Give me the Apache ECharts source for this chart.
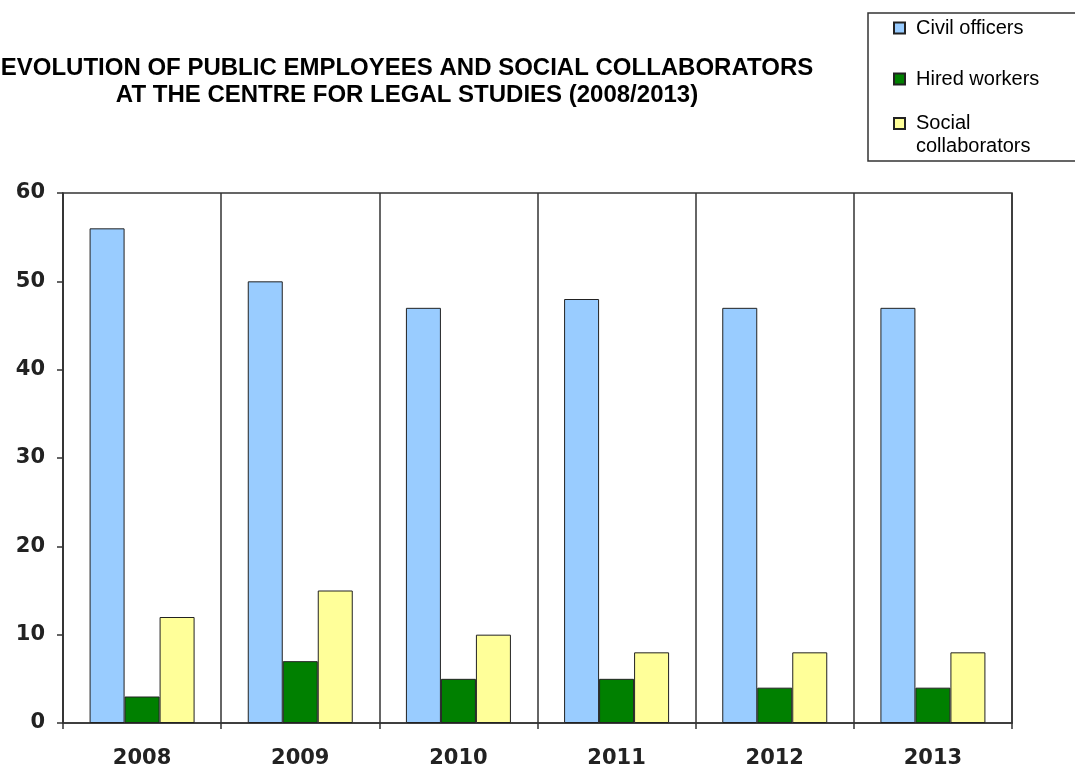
<!DOCTYPE html>
<html>
<head>
<meta charset="utf-8">
<script src="https://cdn.jsdelivr.net/npm/echarts@6/dist/echarts.min.js"></script>
<style>
  html, body { margin: 0; padding: 0; background: #fff; }
  #main { width: 1075px; height: 767px; }
</style>
</head>
<body>
<div id="main"></div>
<script>
// data
var years = ['2008', '2009', '2010', '2011', '2012', '2013'];
var civilOfficers = [56, 50, 47, 48, 47, 47];
var hiredWorkers = [3, 7, 5, 5, 4, 4];
var socialCollaborators = [12, 15, 10, 8, 8, 8];
var yTicks = [0, 10, 20, 30, 40, 50, 60];

var chart = echarts.init(document.getElementById('main'), null, { renderer: 'canvas' });

var lineColor = '#333';
var barBorder = { borderColor: '#222', borderWidth: 1 };

var option = {
  backgroundColor: '#fff',
  animation: false,
  title: {
    text: 'EVOLUTION OF PUBLIC EMPLOYEES AND SOCIAL COLLABORATORS\nAT THE CENTRE FOR LEGAL STUDIES (2008/2013)',
    left: 407,
    top: 55,
    padding: 0,
    textAlign: 'center',
    textStyle: {
      fontFamily: 'Liberation Sans',
      fontWeight: 'bold',
      fontSize: 24,
      lineHeight: 27,
      color: '#000'
    }
  },
  legend: [{
    // first two entries, this box also frames the third one
    data: ['Civil officers', 'Hired workers'],
    orient: 'vertical',
    left: 868,
    top: 13,
    padding: [5, 90, 72, 25],
    itemGap: 31,
    itemWidth: 11,
    itemHeight: 11,
    icon: 'rect',
    borderColor: lineColor,
    borderWidth: 1.5,
    selectedMode: false,
    textStyle: {
      fontFamily: 'Liberation Sans',
      fontSize: 20,
      lineHeight: 18,
      color: '#000',
      padding: [0, 0, 0, 6]
    }
  }, {
    data: ['Social collaborators'],
    orient: 'vertical',
    left: 893,
    top: 89,
    padding: 0,
    itemWidth: 11,
    itemHeight: 11,
    icon: 'rect',
    selectedMode: false,
    // empty first line keeps the box centred on "Social"
    formatter: function (name) {
      return '\n' + name.replace(' ', '\n');
    },
    textStyle: {
      fontFamily: 'Liberation Sans',
      fontSize: 20,
      lineHeight: 23,
      color: '#000',
      padding: [0, 0, 0, 6]
    }
  }],
  grid: {
    left: 63,
    right: 63,
    top: 193,
    bottom: 44,
    show: true,
    borderColor: lineColor,
    borderWidth: 1.5,
    containLabel: false,
    outerBoundsMode: 'none'
  },
  xAxis: {
    type: 'category',
    data: years,
    axisLine: { lineStyle: { color: lineColor, width: 1.5 } },
    axisTick: { show: true, length: 6, lineStyle: { color: lineColor, width: 1.5 } },
    splitLine: { show: true, lineStyle: { color: lineColor, width: 1.5 } },
    axisLabel: {
      margin: 25,
      fontFamily: 'DejaVu Sans',
      fontWeight: 'bold',
      fontSize: 21,
      color: '#222'
    }
  },
  yAxis: {
    type: 'value',
    min: yTicks[0],
    max: yTicks[yTicks.length - 1],
    interval: 10,
    axisLine: { show: true, lineStyle: { color: lineColor, width: 1.5 } },
    axisTick: { show: true, length: 6, lineStyle: { color: lineColor, width: 1.5 } },
    splitLine: { show: false },
    axisLabel: {
      margin: 18,
      padding: [4, 0, 0, 0],
      fontFamily: 'DejaVu Sans',
      fontWeight: 'bold',
      fontSize: 21,
      color: '#222'
    }
  },
  series: [{
    name: 'Civil officers',
    type: 'bar',
    data: civilOfficers,
    barWidth: 35,
    barGap: '0%',
    itemStyle: Object.assign({ color: '#99ccff' }, barBorder)
  }, {
    name: 'Hired workers',
    type: 'bar',
    data: hiredWorkers,
    barWidth: 35,
    barGap: '0%',
    itemStyle: Object.assign({ color: '#008000' }, barBorder)
  }, {
    name: 'Social collaborators',
    type: 'bar',
    data: socialCollaborators,
    barWidth: 35,
    barGap: '0%',
    itemStyle: Object.assign({ color: '#ffff99' }, barBorder)
  }]
};

chart.setOption(option);
</script>
</body>
</html>
